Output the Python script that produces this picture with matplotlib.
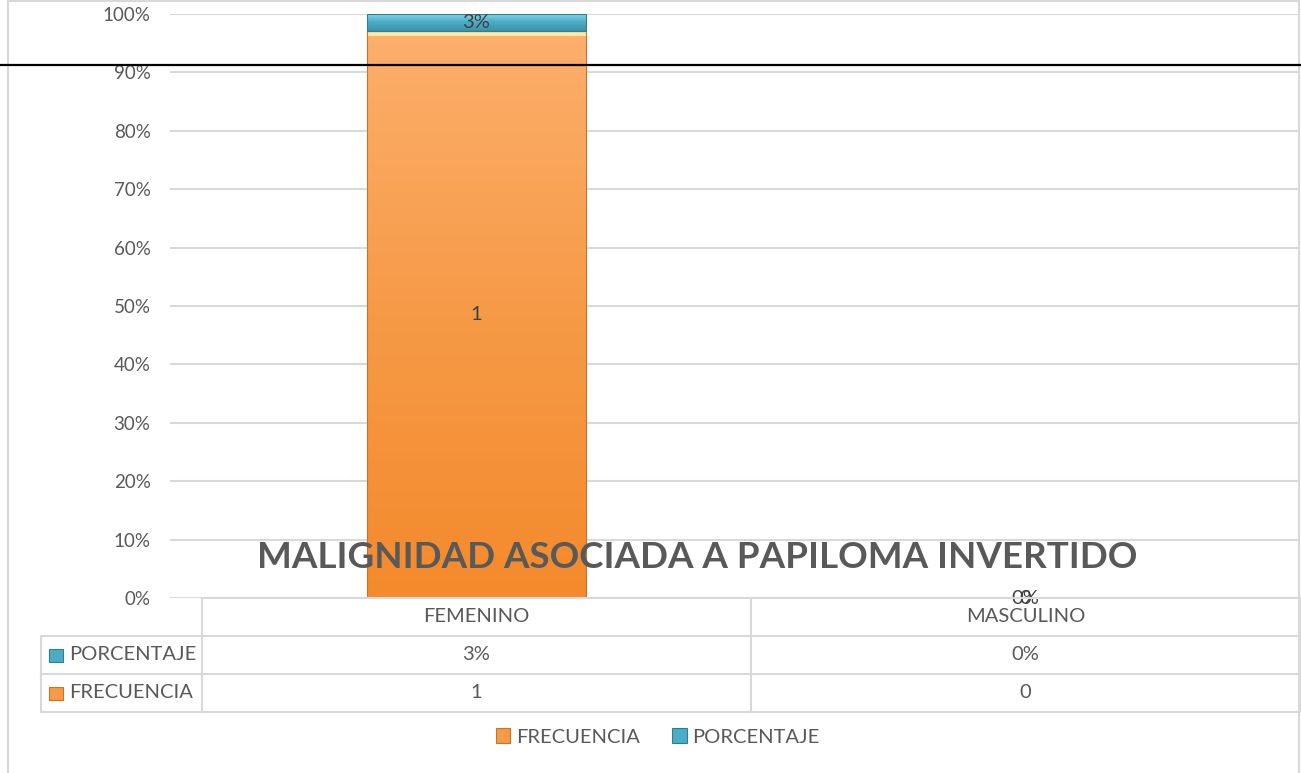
import matplotlib
matplotlib.use("Agg")
import matplotlib.pyplot as plt
import numpy as np
from matplotlib.patches import Patch, Rectangle
from matplotlib.colors import LinearSegmentedColormap

# ── data ─────────────────────────────────────────────────────────────────────
categorias = ["FEMENINO", "MASCULINO"]
frecuencia = [1, 0]
porcentaje = [0.03, 0.00]
title      = "MALIGNIDAD ASOCIADA A PAPILOMA INVERTIDO"
yticks     = [0.0, 0.1, 0.2, 0.3, 0.4, 0.5, 0.6, 0.7, 0.8, 0.9, 1.0]

# ── style ────────────────────────────────────────────────────────────────────
W, H   = 1301, 773
txt    = "#595959"
grid_c = "#D9D9D9"
fs     = 14.5
plt.rcParams['font.family'] = ['Lato', 'DejaVu Sans']

orange_cmap = LinearSegmentedColormap.from_list("o", ["#F48A2C", "#F69A47", "#FDAF6C"])
blue_cmap   = LinearSegmentedColormap.from_list("b", ["#3B93AB", "#4BACC6", "#8ADCEE"])

fig = plt.figure(figsize=(W / 100, H / 100), dpi=100)

# plot area (gridlines start a bit left of the first category, like Excel)
px0, px1, py0, py1 = 170, 1300, 598, 14
cat_w = (px1 - 202) / len(categorias)
ax = fig.add_axes([px0 / W, 1 - py0 / H, (px1 - px0) / W, (py0 - py1) / H])
for s in ax.spines.values():
    s.set_visible(False)
ax.set_yticks(yticks)
ax.set_yticklabels([f"{t:.0%}" for t in yticks], color=txt, fontsize=13.5)
ax.tick_params(axis='y', length=0, pad=14)
ax.set_xticks([])
ax.grid(axis='y', color=grid_c, linewidth=1.5)
ax.set_axisbelow(True)

# 100% stacked values
tot   = np.array(frecuencia, float) + np.array(porcentaje, float)
safe  = np.where(tot > 0, tot, 1)
f_pct = np.array(frecuencia, float) / safe
p_pct = np.array(porcentaje, float) / safe
x = np.arange(len(categorias)) + 0.5

bars_f = ax.bar(x, f_pct, width=0.4, color="#F69A47", edgecolor="#C9722A", linewidth=0.8, zorder=2)
bars_p = ax.bar(x, p_pct, bottom=f_pct, width=0.4, color="#4BACC6", edgecolor="#2F7F94", linewidth=0.8, zorder=2)

grad = np.linspace(1, 0, 256).reshape(-1, 1)
for bars, cmap in [(bars_f, orange_cmap), (bars_p, blue_cmap)]:
    for b in bars:
        if b.get_height() <= 0:
            continue
        im = ax.imshow(grad, cmap=cmap, aspect='auto', zorder=2.5,
                       extent=[b.get_x(), b.get_x() + b.get_width(), b.get_y(), b.get_y() + b.get_height()])
        im.set_clip_path(b)
        b.set_facecolor("none")
        b.set_zorder(3)
# pale bevel at the top of the orange segment
for b in bars_f:
    if b.get_height() > 0:
        ax.add_patch(Rectangle((b.get_x(), b.get_y() + b.get_height() - 0.008), b.get_width(), 0.008,
                               color="#FFE7A6", zorder=2.8, linewidth=0))
ax.set_xlim(-(202 - px0) / cat_w, len(categorias))
ax.set_ylim(0, 1)

for i in range(len(categorias)):
    ax.text(x[i], f_pct[i] / 2, f"{frecuencia[i]}", ha='center', va='center', color="#404040", fontsize=fs, zorder=5)
    ax.text(x[i], f_pct[i] + p_pct[i] / 2, f"{porcentaje[i]:.0%}", ha='center', va='center',
            color="#404040", fontsize=fs, zorder=5)

# ── overlay in pixel coordinates: border, data table, title, black line ────
ov = fig.add_axes([0, 0, 1, 1], zorder=10)
ov.set_xlim(0, W)
ov.set_ylim(H, 0)
ov.axis('off')

ov.plot([8, 8], [0, H], color=grid_c, lw=1.5)
ov.plot([1299, 1299], [0, H], color=grid_c, lw=1.5)
ov.plot([8, 1299], [1, 1], color=grid_c, lw=1.5)

# data table
rows_y = [598, 636, 674, 712]
ov.plot([202, 1300], [598, 598], color=grid_c, lw=1.5)
for yy in rows_y[1:]:
    ov.plot([41, 1300], [yy, yy], color=grid_c, lw=1.5)
ov.plot([41, 41], [636, 712], color=grid_c, lw=1.5)
for xx in [202, 202 + cat_w, 1300]:
    ov.plot([xx, xx], [598, 712], color=grid_c, lw=1.5)

centers = [202 + cat_w * (i + 0.5) for i in range(len(categorias))]
for cx, c, p, f in zip(centers, categorias, porcentaje, frecuencia):
    ov.text(cx, 617, c, ha='center', va='center', color=txt, fontsize=fs)
    ov.text(cx, 655, f"{p:.0%}", ha='center', va='center', color=txt, fontsize=fs)
    ov.text(cx, 693, f"{f}", ha='center', va='center', color=txt, fontsize=fs)

for yc, lab, col, ec in [(655, "PORCENTAJE", "#4BACC6", "#2F7F94"), (693, "FRECUENCIA", "#F69A47", "#C9722A")]:
    ov.add_patch(Rectangle((49, yc - 6), 14, 13, facecolor=col, edgecolor=ec, lw=0.8))
    ov.text(69, yc, lab, ha='left', va='center', color=txt, fontsize=fs)

ov.text(697, 557, title, ha='center', va='center', color=txt, fontsize=26.5, fontweight='bold')

ov.plot([0, W], [65, 65], color='black', lw=1.6)

handles = [Patch(facecolor="#F69A47", edgecolor="#C9722A", lw=0.8),
           Patch(facecolor="#4BACC6", edgecolor="#2F7F94", lw=0.8)]
fig.legend(handles, ["FRECUENCIA", "PORCENTAJE"], loc='center', bbox_to_anchor=(658 / W, 1 - 737 / H),
           ncol=2, frameon=False, handlelength=0.7, handleheight=0.7, handletextpad=0.3,
           columnspacing=1.6, fontsize=fs, labelcolor=txt)

fig.savefig("out.png", dpi=100)
